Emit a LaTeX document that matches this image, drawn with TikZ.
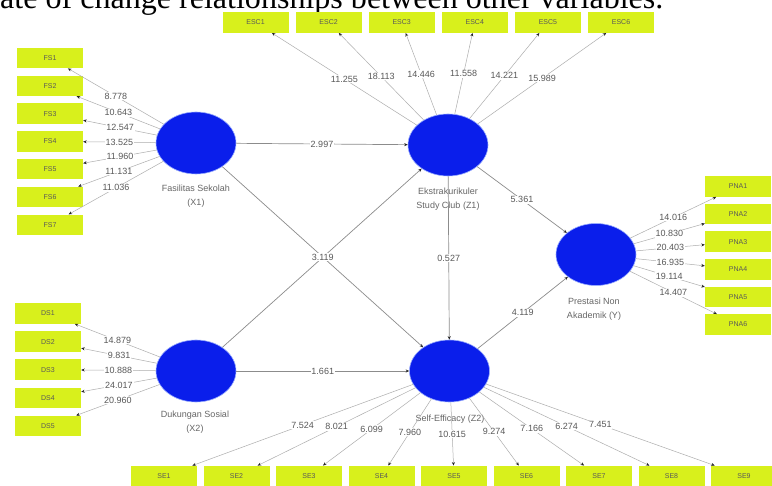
\documentclass[tikz,border=0pt]{standalone}
\usepackage{fontspec}
\usepackage{graphicx}
\setmainfont{Liberation Sans}
\newfontfamily\topserif{Liberation Serif}
\usetikzlibrary{arrows.meta,shapes.geometric}
\definecolor{boxc}{RGB}{216,240,28}
\definecolor{ellc}{RGB}{10,30,235}
\definecolor{ellb}{RGB}{150,170,255}
\begin{document}
\begin{tikzpicture}[x=1pt,y=-1pt,
  ind/.style={fill=boxc, minimum width=66pt, minimum height=20.5pt, inner sep=0pt,
    font=\fontsize{7}{8}\selectfont, text=black!65},
  lat/.style={ellipse, fill=ellc, draw=ellb, line width=0.6pt,
    minimum width=80pt, minimum height=62pt, inner sep=0pt},
  load/.style={draw=black!32, line width=0.5pt, -{Stealth[length=3.5pt,width=3pt,color=black!85]}},
  struct/.style={draw=black!45, line width=0.7pt, -{Stealth[length=3.5pt,width=3pt,color=black!85]}},
  lbl/.style={fill=white, inner sep=0.8pt, font=\fontsize{9}{10}\selectfont, text=black!65},
  latcap/.style={align=center, font=\fontsize{9}{14}\selectfont, text=black!60}
]
\clip (0,0) rectangle (772,486);
\fill[white] (0,0) rectangle (772,486);

% clipped caption line at the top
\node[anchor=base west, inner sep=0pt] (toptext) at (0,8.5)
  {\resizebox{663pt}{!}{\topserif ate of change relationships between other variables.}};

% latent variables
\node[lat] (X1) at (196,143) {};
\node[lat] (Z1) at (448,145) {};
\node[lat] (Y)  at (596,254.5) {};
\node[lat] (X2) at (196,371) {};
\node[lat] (Z2) at (449.5,371) {};

\node[latcap] (cX1) at (196,196) {Fasilitas Sekolah\\(X1)};
\node[latcap] (cZ1) at (448,199) {Ekstrakurikuler\\Study Club (Z1)};
\node[latcap] (cY)  at (594,309) {Prestasi Non\\Akademik (Y)};
\node[latcap] (cX2) at (195,422) {Dukungan Sosial\\(X2)};
\node[latcap] (cZ2) at (450,419) {Self-Efficacy (Z2)};

% indicators
\foreach \i in {1,...,7} \node[ind] (FS\i) at (50,{58+27.8*(\i-1)}) {FS\i};
\foreach \i in {1,...,5} \node[ind] (DS\i) at (48,{313.5+28.1*(\i-1)}) {DS\i};
\foreach \i in {1,...,6} \node[ind] (ESC\i) at ({255.5+73.1*(\i-1)},22.5) {ESC\i};
\foreach \i in {1,...,6} \node[ind] (PNA\i) at (738,{186.5+27.6*(\i-1)}) {PNA\i};
\foreach \i in {1,...,9} \node[ind] (SE\i) at ({164+72.5*(\i-1)},476) {SE\i};

% outer loadings
\foreach \v [count=\i] in {8.778,10.643,12.547,13.525,11.960,11.131,11.036}
  \draw[load] (X1) -- node[lbl] {\v} (FS\i);
\foreach \v [count=\i] in {14.879,9.831,10.888,24.017,20.960}
  \draw[load] (X2) -- node[lbl] {\v} (DS\i);
\foreach \v [count=\i] in {11.255,18.113,14.446,11.558,14.221,15.989}
  \draw[load] (Z1) -- node[lbl] {\v} (ESC\i);
\foreach \v [count=\i] in {14.016,10.830,20.403,16.935,19.114,14.407}
  \draw[load] (Y) -- node[lbl] {\v} (PNA\i);
\foreach \v [count=\i] in {7.524,8.021,6.099,7.960,10.615,9.274,7.166,6.274,7.451}
  \draw[load] (Z2) -- node[lbl] {\v} (SE\i);

% structural paths
\draw[struct] (X1) -- node[lbl] {2.997} (Z1);
\draw[struct] (X2) -- (Z1);
\draw[struct] (X1) -- node[lbl] {3.119} (Z2);
\draw[struct] (X2) -- node[lbl] {1.661} (Z2);
\draw[struct] (Z1) -- node[lbl] {0.527} (Z2);
\draw[struct] (Z1) -- node[lbl] {5.361} (Y);
\draw[struct] (Z2) -- node[lbl] {4.119} (Y);
\end{tikzpicture}
\end{document}
